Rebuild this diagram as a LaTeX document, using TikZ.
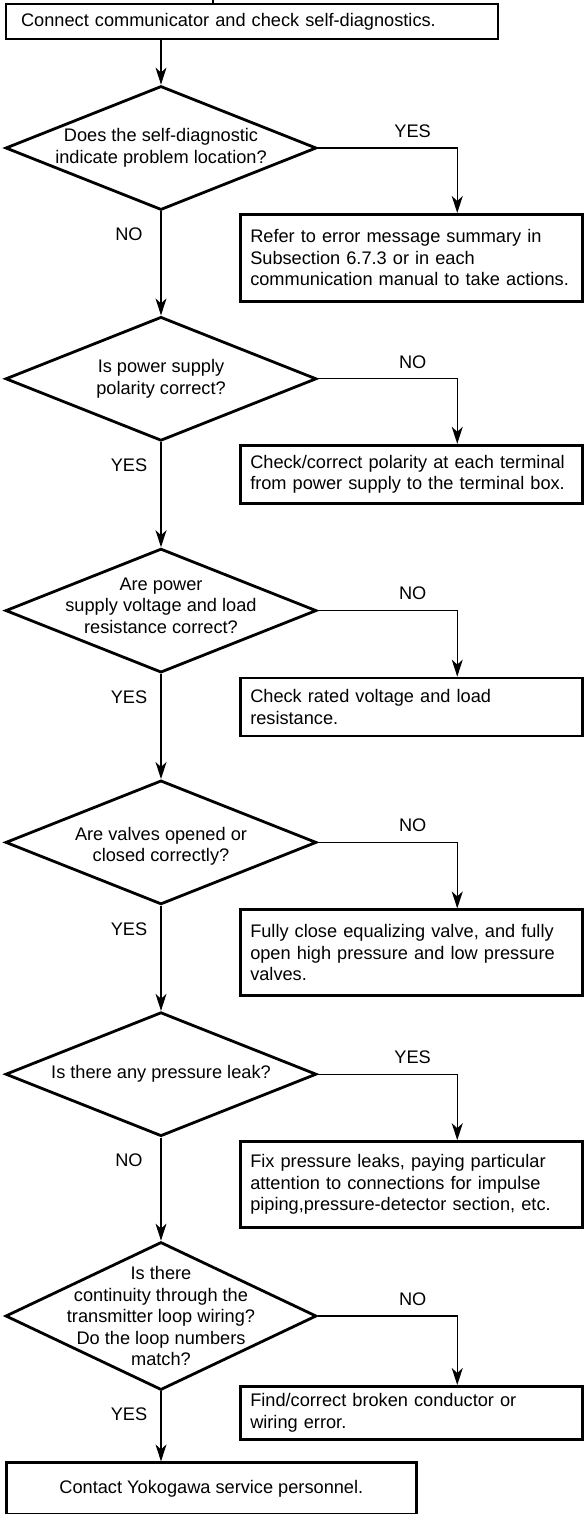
\documentclass[tikz,border=0pt]{standalone}
\usepackage{fontspec}
\setmainfont{Liberation Sans}
\usepackage{tikz}
\usetikzlibrary{shapes.geometric, arrows.meta, positioning}

\begin{document}
\begin{tikzpicture}[
    x=1pt, y=-1pt,
    font=\fontsize{18.2}{21.5}\selectfont,
    startbox/.style={rectangle, draw, line width=2.2pt, text width=462pt, inner xsep=15pt, inner ysep=0pt, minimum height=35pt, align=left},
    actbox/.style={rectangle, draw, line width=2.7pt, text width=330pt, inner xsep=6pt, inner ysep=0pt, minimum height=58pt, align=left},
    endbox/.style={rectangle, draw, line width=2.7pt, minimum width=410pt, minimum height=52pt, align=center},
    decision/.style={diamond, draw, line width=2.8pt, minimum width=311pt, minimum height=124pt, inner sep=0pt},
    qtext/.style={align=center, inner sep=0pt},
    lbl/.style={inner sep=0pt},
    arrow/.style={line width=1.1pt, -{Stealth[length=17pt, width=11pt, inset=5pt]}},
    feed/.style={line width=1.1pt}
  ]
    \useasboundingbox (0,0) rectangle (584,1514);

    \node (start_check) [startbox, anchor=north west] at (5,3) {Connect communicator and check self-diagnostics.};
    \coordinate (from_above) at (213,0);

    \node (diag_q) [decision] at (161,148) {};
    \node (diag_txt) [qtext] at (diag_q) {Does the self-diagnostic\\indicate problem location?};
    \node (diag_act) [actbox, minimum height=87pt, below right=65pt and -79pt of diag_q.east] {\hspace*{4pt}Refer to error message summary in\\\hspace*{4pt}Subsection 6.7.3 or in each\\\hspace*{4pt}communication manual to take actions.};

    \node (polar_q) [decision, below=104pt of diag_q] {};
    \node (polar_txt) [qtext] at (polar_q) {Is power supply\\polarity correct?};
    \node (polar_act) [actbox, below right=65pt and -79pt of polar_q.east] {\hspace*{4pt}Check/correct polarity at each terminal\\\hspace*{4pt}from power supply to the terminal box.};

    \node (volt_q) [decision, below=105pt of polar_q] {};
    \node (volt_txt) [qtext, yshift=5pt] at (volt_q) {Are power\\supply voltage and load\\resistance correct?};
    \node (volt_act) [actbox, below right=66pt and -79pt of volt_q.east] {\hspace*{4pt}Check rated voltage and load\\\hspace*{4pt}resistance.};

    \node (valve_q) [decision, below=105pt of volt_q] {};
    \node (valve_txt) [qtext, yshift=-4pt] at (valve_q) {Are valves opened or\\closed correctly?};
    \node (valve_act) [actbox, minimum height=86pt, below right=66pt and -79pt of valve_q.east] {\hspace*{4pt}Fully close equalizing valve, and fully\\\hspace*{4pt}open high pressure and low pressure\\\hspace*{4pt}valves.};

    \node (leak_q) [decision, below=105pt of valve_q] {};
    \node (leak_txt) [qtext] at (leak_q) {Is there any pressure leak?};
    \node (leak_act) [actbox, minimum height=86pt, below right=66pt and -79pt of leak_q.east] {\hspace*{4pt}Fix pressure leaks, paying particular\\\hspace*{4pt}attention to connections for impulse\\\hspace*{4pt}piping,pressure-detector section, etc.};

    \node (loop_q) [decision, minimum height=148pt, below=103pt of leak_q] {};
    \node (loop_txt) [qtext] at (loop_q) {Is there\\continuity through the\\transmitter loop wiring?\\Do the loop numbers\\match?};
    \node (loop_act) [actbox, minimum height=53pt, below right=69pt and -79pt of loop_q.east] {\hspace*{4pt}Find/correct broken conductor or\\\hspace*{4pt}wiring error.};

    \coordinate (end_ref) at (loop_q.south -| start_check.west);
    \node (contact_svc) [endbox, below right=70pt and 0pt of end_ref] {Contact Yokogawa service personnel.};

    \draw [feed] (from_above) -- (from_above |- start_check.north);
    \draw [arrow] (start_check.south -| diag_q.north) -- (diag_q.north);

    \draw [arrow] (diag_q.east) -| node [lbl, pos=0.34, above=10pt] {YES} ([xshift=46pt]diag_act.north);
    \draw [arrow] (diag_q.south) -- node [lbl, pos=0.22, xshift=-32pt] {NO} (polar_q.north);

    \draw [arrow] (polar_q.east) -| node [lbl, pos=0.34, above=10pt] {NO} ([xshift=46pt]polar_act.north);
    \draw [arrow] (polar_q.south) -- node [lbl, pos=0.22, xshift=-32pt] {YES} (volt_q.north);

    \draw [arrow] (volt_q.east) -| node [lbl, pos=0.34, above=10pt] {NO} ([xshift=46pt]volt_act.north);
    \draw [arrow] (volt_q.south) -- node [lbl, pos=0.22, xshift=-32pt] {YES} (valve_q.north);

    \draw [arrow] (valve_q.east) -| node [lbl, pos=0.34, above=10pt] {NO} ([xshift=46pt]valve_act.north);
    \draw [arrow] (valve_q.south) -- node [lbl, pos=0.22, xshift=-32pt] {YES} (leak_q.north);

    \draw [arrow] (leak_q.east) -| node [lbl, pos=0.34, above=10pt] {YES} ([xshift=46pt]leak_act.north);
    \draw [arrow] (leak_q.south) -- node [lbl, pos=0.22, xshift=-32pt] {NO} (loop_q.north);

    \draw [arrow] (loop_q.east) -| node [lbl, pos=0.34, above=10pt] {NO} ([xshift=46pt]loop_act.north);
    \draw [arrow] (loop_q.south) -- node [lbl, pos=0.33, xshift=-32pt] {YES} (loop_q.south |- contact_svc.north);

  \end{tikzpicture}
\end{document}
